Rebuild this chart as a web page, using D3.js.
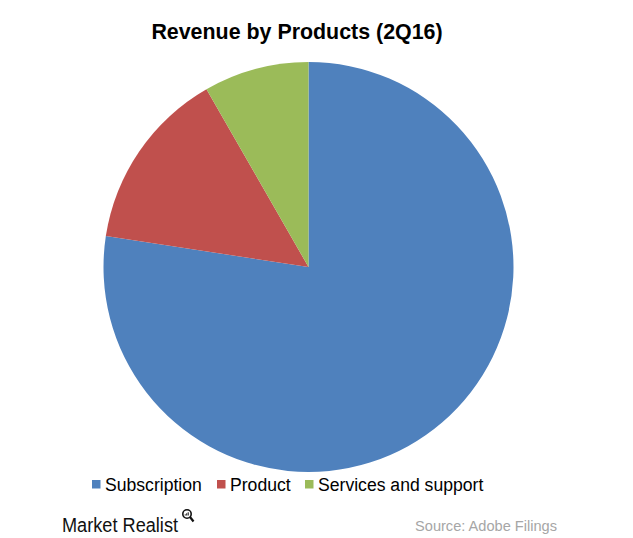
<!DOCTYPE html>
<html>
<head>
<meta charset="utf-8">
<script src="https://cdn.jsdelivr.net/npm/d3@7"></script>
<style>
  body { margin: 0; background: #fff; }
</style>
</head>
<body>
<script>
// values in $ millions, Adobe 2Q16
var categories = ["Subscription", "Product", "Services and support"];
var revenue = [1083, 200, 116];
var colors = ["#4F81BD", "#C0504D", "#9BBB59"];

var width = 633, height = 538;

var svg = d3.select("body").append("svg")
    .attr("width", width)
    .attr("height", height)
    .style("font-family", "Arial, 'Liberation Sans', sans-serif");

svg.append("text")
    .attr("x", 297)
    .attr("y", 39)
    .attr("text-anchor", "middle")
    .attr("font-size", 21.4)
    .attr("font-weight", "bold")
    .text("Revenue by Products (2Q16)");

var color = d3.scaleOrdinal().domain(categories).range(colors);

var pie = d3.pie().sort(null).value(function(d, i) { return revenue[i]; });
var arc = d3.arc().innerRadius(0).outerRadius(205);

var g = svg.append("g").attr("transform", "translate(308.5,267)");

g.selectAll("path")
    .data(pie(categories))
    .enter().append("path")
    .attr("d", arc)
    .attr("fill", function(d) { return color(d.data); });

// legend
var legendX = [92, 217, 305];
var legend = svg.append("g").attr("transform", "translate(0,484)");
var items = legend.selectAll("g")
    .data(categories)
    .enter().append("g")
    .attr("transform", function(d, i) { return "translate(" + legendX[i] + ",0)"; });

items.append("rect")
    .attr("x", 0)
    .attr("y", -4)
    .attr("width", 8.5)
    .attr("height", 8.5)
    .attr("fill", function(d) { return color(d); });

items.append("text")
    .attr("x", 13)
    .attr("y", 7)
    .attr("font-size", 17.6)
    .attr("fill", "#000")
    .text(function(d) { return d; });

// footer
var logo = svg.append("g").attr("transform", "translate(62,532)");
logo.append("text")
    .attr("font-size", 20)
    .attr("fill", "#111")
    .attr("textLength", 116)
    .attr("lengthAdjust", "spacingAndGlyphs")
    .text("Market Realist");
logo.append("circle")
    .attr("cx", 125)
    .attr("cy", -18)
    .attr("r", 4.2)
    .attr("fill", "none")
    .attr("stroke", "#111")
    .attr("stroke-width", 1.6);
logo.append("line")
    .attr("x1", 128).attr("y1", -15)
    .attr("x2", 131.5).attr("y2", -10.5)
    .attr("stroke", "#111")
    .attr("stroke-width", 2.2);
[[-1.8, 1.2], [-0.3, 2.2], [1.2, 3.2]].forEach(function(b) {
    logo.append("rect")
        .attr("x", 125 + b[0] - 0.5)
        .attr("y", -16.5 - b[1])
        .attr("width", 1)
        .attr("height", b[1])
        .attr("fill", "#111");
});

svg.append("text")
    .attr("x", 557)
    .attr("y", 531)
    .attr("text-anchor", "end")
    .attr("font-size", 14.6)
    .attr("fill", "#A6A6A6")
    .text("Source:  Adobe Filings");
</script>
</body>
</html>
